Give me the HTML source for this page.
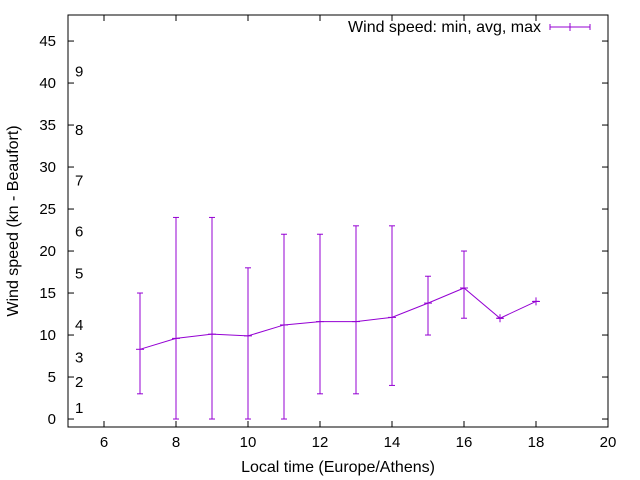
<!DOCTYPE html>
<html><head><meta charset="utf-8"><style>
html,body{margin:0;padding:0;background:#fff;}
svg{display:block;font-family:"Liberation Sans",sans-serif;font-size:15px;}
.big{font-size:16px;}
</style></head><body>
<svg id="chart" width="640" height="480" viewBox="0 0 640 480"></svg>
<script>
const hours=[7,8,9,10,11,12,13,14,15,16,17,18];
const avgSpeed=[8.3,9.6,10.1,9.9,11.2,11.6,11.6,12.1,13.8,15.6,12,14];
const minSpeed=[3,0,0,0,0,3,3,4,10,12,12,14];
const maxSpeed=[15,24,24,18,22,22,23,23,17,20,12,14];
const xTicks=[6,8,10,12,14,16,18,20];
const yTicks=[0,5,10,15,20,25,30,35,40,45];
const beaufortLabels=["1","2","3","4","5","6","7","8","9"];
const beaufortLevels=[1.3,4.4,7.3,11.2,17.3,22.3,28.4,34.4,41.4];

const L=68,R=608,T=15,B=427;
const xMin=5,xMax=20,yMin=-0.95,yMax=48.1;
const sx=v=>L+(v-xMin)/(xMax-xMin)*(R-L);
const sy=v=>B-(v-yMin)/(yMax-yMin)*(B-T);
const svg=document.getElementById('chart');
const NS='http://www.w3.org/2000/svg';
function mk(tag,attrs,parent){const e=document.createElementNS(NS,tag);for(const k in attrs)e.setAttribute(k,attrs[k]);(parent||svg).appendChild(e);return e;}

const frame=mk('rect',{x:L,y:T,width:R-L,height:B-T,fill:'none',stroke:'#000','stroke-width':1});



xTicks.forEach(v=>{
  const x=sx(v);
  const t1=mk('line',{x1:x,y1:B,x2:x,y2:B-6,stroke:'#000'});
  
  
  const t2=mk('line',{x1:x,y1:T,x2:x,y2:T+6,stroke:'#000'});
  
  
  const lb=mk('text',{x:x,y:B+20,'text-anchor':'middle',fill:'#000'});
  lb.textContent=v;
  
  
});
yTicks.forEach(v=>{
  const y=sy(v);
  const t1=mk('line',{x1:L,y1:y,x2:L+6,y2:y,stroke:'#000'});
  
  
  const t2=mk('line',{x1:R,y1:y,x2:R-6,y2:y,stroke:'#000'});
  
  
  const lb=mk('text',{x:L-12,y:y+5,'text-anchor':'end',fill:'#000'});
  lb.textContent=v;
  
  
});
beaufortLabels.forEach((s,i)=>{
  const lb=mk('text',{x:75,y:sy(beaufortLevels[i])+5,fill:'#000'});
  lb.textContent=s;
  
  
});

const xt=mk('text',{x:338,y:472,'text-anchor':'middle',fill:'#000',class:'big'});
xt.textContent='Local time (Europe/Athens)';


const yt=mk('text',{x:0,y:0,'text-anchor':'middle',fill:'#000',class:'big',transform:'translate(18,221) rotate(-90)'});
yt.textContent='Wind speed (kn - Beaufort)';



const C='#9400d3';
const pts=hours.map((h,i)=>sx(h)+','+sy(avgSpeed[i])).join(' ');
const line=mk('polyline',{points:pts,fill:'none',stroke:C,'stroke-width':1});


hours.forEach((h,i)=>{
  const x=sx(h);
  const g=mk('g',{stroke:C,'stroke-width':1});
  
  
  mk('line',{x1:x,y1:sy(minSpeed[i]),x2:x,y2:sy(maxSpeed[i])},g);
  mk('line',{x1:x-3,y1:sy(minSpeed[i]),x2:x+3,y2:sy(minSpeed[i])},g);
  mk('line',{x1:x-3,y1:sy(maxSpeed[i]),x2:x+3,y2:sy(maxSpeed[i])},g);
  mk('line',{x1:x-4,y1:sy(avgSpeed[i]),x2:x+4,y2:sy(avgSpeed[i])},g);
  mk('line',{x1:x,y1:sy(avgSpeed[i])-4,x2:x,y2:sy(avgSpeed[i])+4},g);
});

const lg=mk('g',{});


const lt=mk('text',{x:541,y:32,'text-anchor':'end',fill:'#000',class:'big'},lg);
lt.textContent='Wind speed: min, avg, max';
mk('line',{x1:550,y1:27,x2:590,y2:27,stroke:C},lg);
mk('line',{x1:550,y1:24,x2:550,y2:30,stroke:C},lg);
mk('line',{x1:590,y1:24,x2:590,y2:30,stroke:C},lg);
mk('line',{x1:570,y1:23,x2:570,y2:31,stroke:C},lg);
</script>
</body></html>
